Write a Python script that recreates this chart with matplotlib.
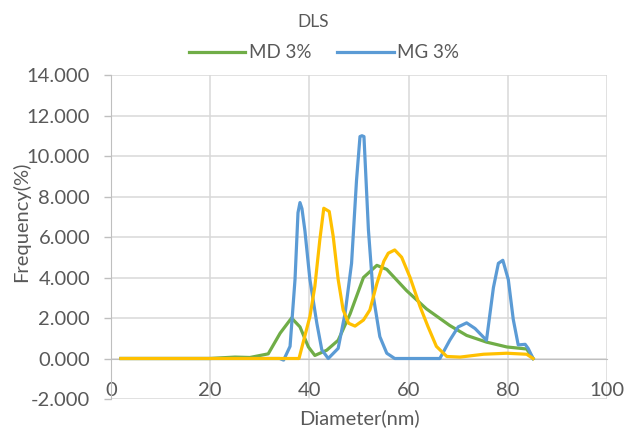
import matplotlib
matplotlib.use("Agg")
import matplotlib.pyplot as plt

# DLS size distributions
md_x = [2, 20, 22, 25, 28, 31.7, 34.1, 36.4, 38.1, 39.8, 41.1, 43.5, 45.8, 48.2,
        50.9, 53.6, 55.6, 59.6, 63.6, 68.3, 71.7, 75.7, 79.8, 83.8, 85.1]
md_y = [0, 0, 0.03, 0.07, 0.05, 0.23, 1.25, 2.0, 1.56, 0.57, 0.15, 0.41, 0.9, 2.2,
        4.0, 4.6, 4.4, 3.35, 2.45, 1.63, 1.14, 0.81, 0.57, 0.47, 0]

mg_x = [2, 34.0, 34.8, 36.1, 37.1, 37.7, 38.1, 38.5, 39.1, 40.1, 41.5, 42.5, 43.8,
        45.8, 47.2, 48.5, 49.5, 50.2, 50.6, 51.0, 51.9, 52.9, 54.2, 55.6, 57.2,
        66.3, 68.3, 70.0, 71.7, 73.4, 75.7, 77.1, 78.1, 79.0, 80.1, 81.1, 82.1,
        83.5, 84.1, 85.1]
mg_y = [0, 0, -0.08, 0.6, 3.9, 7.2, 7.7, 7.4, 6.3, 3.9, 1.74, 0.43, 0,
        0.5, 2.24, 4.7, 8.8, 10.96, 11.0, 10.96, 6.35, 3.05, 1.08, 0.26, 0,
        0, 0.9, 1.56, 1.76, 1.48, 0.9, 3.5, 4.7, 4.85, 3.9, 1.93, 0.67,
        0.7, 0.5, 0]

# third series (not in the legend)
ref_x = [2, 37.9, 40.1, 41.1, 42.1, 42.9, 44.0, 44.8, 45.8, 46.8, 47.9, 49.2, 50.9,
         52.2, 53.6, 55.0, 55.9, 57.2, 58.6, 60.3, 62.3, 63.9, 65.6, 67.7, 70.4,
         75.1, 79.8, 83.8, 85.1]
ref_y = [0, 0, 2.07, 3.56, 5.86, 7.42, 7.26, 6.03, 3.9, 2.4, 1.74, 1.6, 1.9,
         2.4, 3.7, 4.8, 5.2, 5.36, 5.0, 4.0, 2.57, 1.58, 0.6, 0.1, 0.07,
         0.21, 0.26, 0.21, 0]

x_ticks = [0, 20, 40, 60, 80, 100]
y_ticks = [-2, 0, 2, 4, 6, 8, 10, 12, 14]

TXT = "#595959"
GRID = "#d9d9d9"
plt.rcParams['font.family'] = ['Lato', 'DejaVu Sans']

fig = plt.figure(figsize=(6.27, 4.30), dpi=100)
ax = fig.add_axes([111 / 627, 1 - 399 / 430, 496 / 627, 324 / 430])

ax.plot(md_x, md_y, color="#70ad47", lw=2.3, solid_joinstyle="round", label="MD 3%", zorder=3)
ax.plot(mg_x, mg_y, color="#5b9bd5", lw=2.3, solid_joinstyle="round", label="MG 3%", zorder=3)
ax.plot(ref_x, ref_y, color="#ffc000", lw=2.3, solid_joinstyle="round", zorder=4)

ax.set_xlim(0, 100)
ax.set_ylim(-2, 14)
ax.set_xticks(x_ticks)
ax.set_yticks(y_ticks)
ax.set_yticklabels([f"{v:.3f}" for v in y_ticks])
ax.grid(True, color=GRID, lw=1.1)
ax.set_axisbelow(True)

for s in ["top", "right"]:
    ax.spines[s].set_visible(False)
ax.spines["bottom"].set_position(("data", 0))
ax.spines["bottom"].set_color("#bfbfbf")
ax.spines["left"].set_color("#bfbfbf")
ax.tick_params(axis="x", length=0, pad=17, labelsize=14.5, colors=TXT)
ax.tick_params(axis="y", length=5, width=1, color="#bfbfbf", pad=10, labelsize=14.5, labelcolor=TXT)

fig.text(359 / 627, 1 - 418 / 430, "Diameter(nm)", ha="center", va="center", fontsize=14.5, color=TXT)
fig.text(21 / 627, 1 - 222 / 430, "Frequency(%)", ha="center", va="center", rotation=90,
         fontsize=14.5, color=TXT)
fig.text(0.5, 1 - 22 / 430, "DLS", ha="center", va="center", fontsize=12.5, color=TXT)

fig.legend(loc="center", bbox_to_anchor=(324 / 627, 1 - 53 / 430), ncol=2, frameon=False,
           fontsize=13.5, labelcolor=TXT, handlelength=3.0, handletextpad=0.2, columnspacing=1.4)

fig.savefig("out.png", dpi=100)
